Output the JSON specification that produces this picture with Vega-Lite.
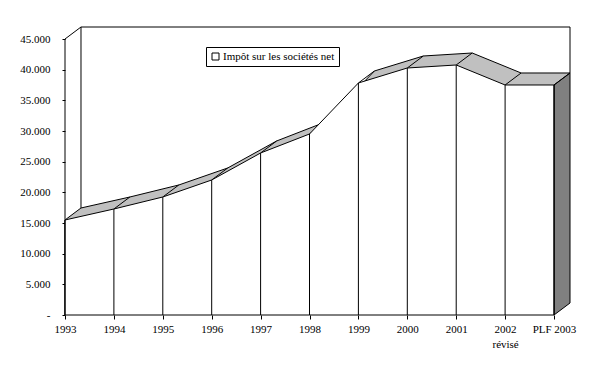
{
  "$schema": "https://vega.github.io/schema/vega-lite/v6.json",
  "width": 505,
  "height": 288,
  "autosize": "none",
  "padding": {"left": 65, "top": 27, "right": 23, "bottom": 66},
  "background": "white",
  "config": {
    "view": {"stroke": null},
    "font": "Liberation Serif",
    "axis": {"labelFont": "Liberation Serif", "labelFontSize": 11, "labelColor": "black", "tickColor": "black", "grid": false, "domain": false, "title": null, "labelOverlap": false, "labelFlush": false},
    "axisX": {"tickCount": 11, "tickSize": 4, "labelPadding": 4, "labelAngle": 0},
    "axisY": {"tickCount": 10, "tickSize": 3, "labelPadding": 12}
  },
  "data": {"values": [
    {"i": 0, "annee": "1993", "v": 15490},
    {"i": 1, "annee": "1994", "v": 17284},
    {"i": 2, "annee": "1995", "v": 19240},
    {"i": 3, "annee": "1996", "v": 22012},
    {"i": 4, "annee": "1997", "v": 26414},
    {"i": 5, "annee": "1998", "v": 29512},
    {"i": 6, "annee": "1999", "v": 37828},
    {"i": 7, "annee": "2000", "v": 40274},
    {"i": 8, "annee": "2001", "v": 40763},
    {"i": 9, "annee": "2002 révisé", "v": 37502},
    {"i": 10, "annee": "PLF 2003", "v": 37502}
  ]},
  "transform": [
    {"calculate": "datum.i + 0.327", "as": "xb"},
    {"calculate": "datum.v + 1957", "as": "yb"}
  ],
  "layer": [
    {
      "mark": {"type": "area", "orient": "vertical", "opacity": 0, "strokeOpacity": 0},
      "encoding": {
        "x": {"field": "i", "type": "quantitative", "title": null,
          "scale": {"domain": [0, 10.327], "nice": false, "zero": false},
          "axis": {"title": null, "tickCount": 11, "values": [0,1,2,3,4,5,6,7,8,9,10], "labelExpr": "['1993','1994','1995','1996','1997','1998','1999','2000','2001',['2002','révisé'],'PLF 2003'][datum.value]", "labelLineHeight": 15}},
        "y": {"field": "v", "type": "quantitative", "title": null,
          "scale": {"domain": [0, 46957], "nice": false},
          "axis": {"title": null, "tickCount": 10, "values": [0,5000,10000,15000,20000,25000,30000,35000,40000,45000], "labelExpr": "datum.value == 0 ? '-' : replace(format(datum.value, ',d'), ',', '.')"}}
      }
    },
    {
      "data": {"values": [{}]},
      "mark": {"type": "rule", "color": "black", "strokeWidth": 1},
      "encoding": {
        "x": {"datum": 0, "type": "quantitative"},
        "y": {"datum": 0, "type": "quantitative"},
        "y2": {"datum": 45000}
      }
    },
    {
      "data": {"values": [{}]},
      "mark": {"type": "rule", "color": "black", "strokeWidth": 1},
      "encoding": {
        "x": {"datum": 0, "type": "quantitative"},
        "x2": {"datum": 0.327},
        "y": {"datum": 45000, "type": "quantitative"},
        "y2": {"datum": 46957}
      }
    },
    {
      "data": {"values": [{}]},
      "mark": {"type": "rule", "color": "black", "strokeWidth": 1},
      "encoding": {
        "x": {"datum": 0.327, "type": "quantitative"},
        "x2": {"datum": 10.327},
        "y": {"datum": 46957, "type": "quantitative"}
      }
    },
    {
      "transform": [{"filter": "datum.i == 0 || datum.i == 10"}],
      "mark": {"type": "rule", "color": "black", "strokeWidth": 1},
      "encoding": {
        "x": {"field": "xb", "type": "quantitative"},
        "y": {"field": "yb", "type": "quantitative"},
        "y2": {"datum": 46957}
      }
    },
    {
      "transform": [
        {"filter": "datum.i == 0"},
        {"calculate": "0", "as": "a0"},
        {"calculate": "1", "as": "a1"},
        {"fold": ["a0", "a1"], "as": ["k", "t"]},
        {"calculate": "datum.i + datum.t * 0.327", "as": "fx"},
        {"calculate": "datum.v + datum.t * 1957", "as": "fy"},
        {"calculate": "datum.t * 1957", "as": "fy2"}
      ],
      "mark": {"type": "area", "orient": "vertical", "fill": "#c0c0c0", "strokeWidth": 0},
      "encoding": {
        "x": {"field": "fx", "type": "quantitative"},
        "y": {"field": "fy", "type": "quantitative"},
        "y2": {"field": "fy2"}
      }
    },
    {
      "mark": {"type": "area", "orient": "vertical", "fill": "#c0c0c0", "strokeWidth": 0},
      "encoding": {
        "x": {"field": "xb", "type": "quantitative"},
        "y": {"field": "yb", "type": "quantitative"},
        "y2": {"datum": 1957}
      }
    },
    {
      "mark": {"type": "line", "color": "black", "strokeWidth": 1},
      "encoding": {
        "x": {"field": "xb", "type": "quantitative"},
        "y": {"field": "yb", "type": "quantitative"}
      }
    },
    {
      "transform": [
        {"filter": "datum.i == 10"},
        {"calculate": "0", "as": "a0"},
        {"calculate": "1", "as": "a1"},
        {"fold": ["a0", "a1"], "as": ["k", "t"]},
        {"calculate": "datum.i + datum.t * 0.327", "as": "fx"},
        {"calculate": "datum.v + datum.t * 1957", "as": "fy"},
        {"calculate": "datum.t * 1957", "as": "fy2"}
      ],
      "mark": {"type": "area", "orient": "vertical", "fill": "#808080", "stroke": "black", "strokeWidth": 1},
      "encoding": {
        "x": {"field": "fx", "type": "quantitative"},
        "y": {"field": "fy", "type": "quantitative"},
        "y2": {"field": "fy2"}
      }
    },
    {
      "mark": {"type": "rule", "color": "black", "strokeWidth": 1},
      "encoding": {
        "x": {"field": "i", "type": "quantitative"},
        "y": {"field": "v", "type": "quantitative"},
        "x2": {"field": "xb"},
        "y2": {"field": "yb"}
      }
    },
    {
      "mark": {"type": "area", "orient": "vertical", "stroke": "black", "strokeWidth": 1, "opacity": 1, "fillOpacity": 1},
      "encoding": {
        "x": {"field": "i", "type": "quantitative"},
        "y": {"field": "v", "type": "quantitative"},
        "fill": {"datum": "Impôt sur les sociétés net", "type": "nominal", "scale": {"range": ["white"]},
          "legend": {"orient": "none", "legendX": 141, "legendY": 20, "strokeColor": "black", "fillColor": "white", "padding": 4, "symbolType": "square", "symbolSize": 49, "symbolStrokeColor": "black", "symbolStrokeWidth": 1, "symbolFillColor": "white", "labelFont": "Liberation Serif", "labelFontSize": 11, "labelColor": "black", "title": null, "labelOffset": 2, "cornerRadius": 0}}
      }
    },
    {
      "mark": {"type": "rule", "color": "black", "strokeWidth": 1},
      "encoding": {
        "x": {"field": "i", "type": "quantitative"},
        "y": {"field": "v", "type": "quantitative"},
        "y2": {"datum": 0}
      }
    }
  ]
}
